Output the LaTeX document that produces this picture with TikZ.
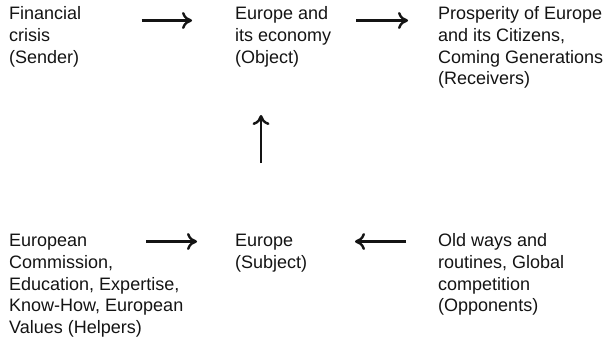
\documentclass[tikz,border=0pt]{standalone}
\usepackage{fontspec}
\setmainfont{Liberation Sans}
\usetikzlibrary{arrows.meta}
\definecolor{ink}{RGB}{20,20,20}
% multi-line labels sit on the baseline of their last line
\tikzset{
  lbl/.style={font=\fontsize{18}{21.7}\selectfont, align=left, inner sep=0pt,
              anchor=base west, text=ink},
  arr/.style={draw=ink, line width=2.4pt,
              -{Computer Modern Rightarrow[length=10pt, width=17pt, line width=2.4pt]}}
}
\begin{document}
\begin{tikzpicture}[x=1pt, y=-1pt]
  \useasboundingbox (0,0) rectangle (608,340);

  % top row (first baseline at 19.8, lines 21.7 apart)
  \node[lbl] (sender) at (9,63.2) {Financial\\crisis\\(Sender)};
  \node[lbl] (object) at (235,63.2) {Europe and\\its economy\\(Object)};
  \node[lbl] (receivers) at (438,84.9) {Prosperity of Europe\\and its Citizens,\\Coming Generations\\(Receivers)};

  % bottom row (first baseline at 246.7)
  \node[lbl] (helpers) at (9,333.5) {European\\Commission,\\Education, Expertise,\\Know-How, European\\Values (Helpers)};
  \node[lbl] (subject) at (235,268.4) {Europe\\(Subject)};
  \node[lbl] (opponents) at (438,311.8) {Old ways and\\routines, Global\\competition\\(Opponents)};

  % arrow end points
  \coordinate (s1) at (141.7,20.5); \coordinate (e1) at (192,20.5);
  \coordinate (s2) at (356,20.5);   \coordinate (e2) at (408,20.5);
  \coordinate (s3) at (261,163);    \coordinate (e3) at (261,115);
  \coordinate (s4) at (146,241.5);  \coordinate (e4) at (197,241.5);
  \coordinate (s5) at (406,241.5);  \coordinate (e5) at (355,241.5);

  \draw[arr] (s1) -- (e1);
  \draw[arr] (s2) -- (e2);
  \draw[arr] (s3) -- (e3);
  \draw[arr] (s4) -- (e4);
  \draw[arr] (s5) -- (e5);
\end{tikzpicture}
\end{document}
